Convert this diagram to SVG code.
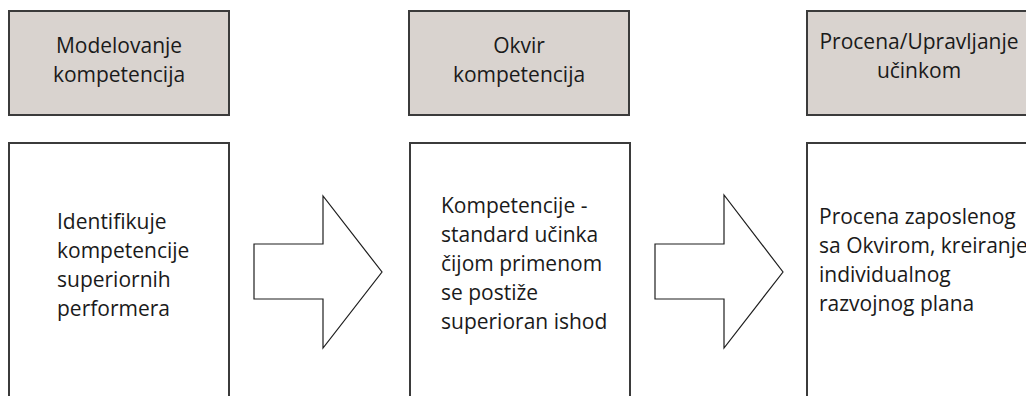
<svg xmlns="http://www.w3.org/2000/svg" width="1026" height="396" viewBox="0 0 1026 396">
  <style>
    .head { fill: #d9d3cf; stroke: #3b3b3b; stroke-width: 2; }
    .body { fill: #ffffff; stroke: #3b3b3b; stroke-width: 2; }
    .arrow { fill: #ffffff; stroke: #1e1e1e; stroke-width: 1.2; stroke-linejoin: miter; }
    text { font-family: "Open Sans", "Noto Sans", sans-serif; font-size: 21px; fill: #1a1a1a; }
    .c { text-anchor: middle; }
  </style>
  <rect width="1026" height="396" fill="#ffffff"/>

  <!-- column 1 -->
  <g id="modelovanje">
    <rect class="head" x="9" y="11" width="220" height="104"/>
    <text class="c" x="119" y="53">Modelovanje</text>
    <text class="c" x="119" y="82">kompetencija</text>
  </g>
  <g id="identifikuje">
    <rect class="body" x="9" y="143" width="220" height="270"/>
    <text x="57" y="229">Identifikuje</text>
    <text x="57" y="258">kompetencije</text>
    <text x="57" y="287">superiornih</text>
    <text x="57" y="316">performera</text>
  </g>

  <!-- column 2 -->
  <g id="okvir">
    <rect class="head" x="409" y="11" width="220" height="104"/>
    <text class="c" x="519" y="53">Okvir</text>
    <text class="c" x="519" y="82">kompetencija</text>
  </g>
  <g id="standard">
    <rect class="body" x="410" y="143" width="220" height="270"/>
    <text x="441" y="213">Kompetencije -</text>
    <text x="441" y="242">standard učinka</text>
    <text x="441" y="271">čijom primenom</text>
    <text x="441" y="300">se postiže</text>
    <text x="441" y="329">superioran ishod</text>
  </g>

  <!-- column 3 -->
  <g id="procena">
    <rect class="head" x="807" y="11" width="230" height="104"/>
    <text class="c" x="919" y="49">Procena/Upravljanje</text>
    <text class="c" x="919" y="78">učinkom</text>
  </g>
  <g id="plan">
    <rect class="body" x="807" y="143" width="230" height="270"/>
    <text x="819" y="224">Procena zaposlenog</text>
    <text x="819" y="253">sa Okvirom, kreiranje</text>
    <text x="819" y="282">individualnog</text>
    <text x="819" y="311">razvojnog plana</text>
  </g>

  <!-- block arrows between the columns -->
  <g id="connectors">
    <polygon class="arrow" points="254,244 323,244 323,196 382,272 323,348 323,299 254,299"/>
    <polygon class="arrow" points="655,244 724,244 724,195 783,272 724,348 724,299 655,299"/>
  </g>
</svg>
